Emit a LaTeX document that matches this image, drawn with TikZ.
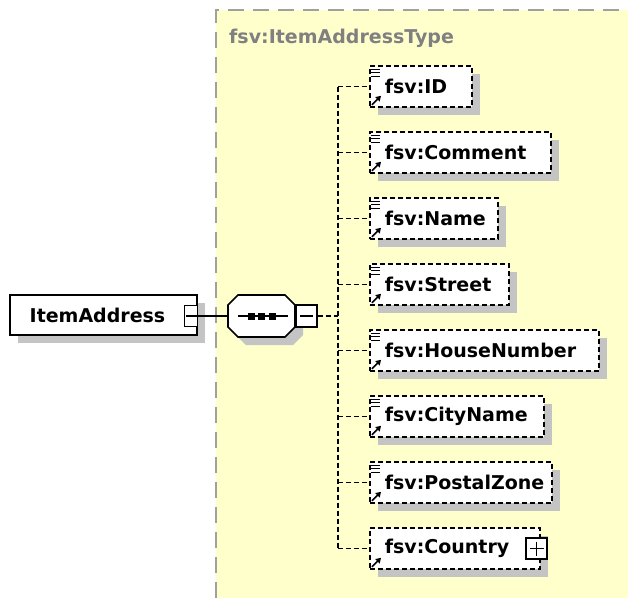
\documentclass[tikz,border=0pt]{standalone}
\usepackage{fontspec}
\setmainfont{DejaVu Sans}
\usetikzlibrary{shadows,arrows.meta}

\definecolor{typeyellow}{RGB}{255,255,204}
\definecolor{shadowgray}{RGB}{196,196,196}
\definecolor{bordergray}{RGB}{160,160,160}
\definecolor{titlegray}{RGB}{128,128,128}

\tikzset{
    xsdfont/.style={font=\fontsize{19}{21}\selectfont\bfseries},
    boxshadow/.style={drop shadow={shadow xshift=8pt, shadow yshift=-8pt, fill=shadowgray, opacity=1}},
    elembox/.style={xsdfont, draw=black, line width=1.6pt, dash pattern=on 5pt off 3pt,
        fill=white, boxshadow, anchor=west, minimum height=41pt, inner xsep=15pt, align=left},
    treeline/.style={line width=1.4pt, dash pattern=on 5pt off 3pt},
    togglebox/.style={draw=black, line width=1.4pt, fill=white, inner sep=0pt}
}

\begin{document}
\begin{tikzpicture}[x=1pt, y=-1pt]
    \useasboundingbox (0,0) rectangle (628,598);

    \def\trunkx{338}
    \def\elemx{369}

    \fill[typeyellow] (216,10) rectangle (628,598);
    \draw[bordergray, line width=1.8pt, dash pattern=on 16pt off 9pt] (216,598) -- (216,10) -- (628,10);
    \node[anchor=west, text=titlegray, xsdfont, inner sep=0pt] (typetitle) at (229,38) {fsv:ItemAddressType};

    
    \node[xsdfont, draw=black, line width=1.6pt, fill=white, boxshadow, minimum width=187pt, minimum height=40pt,
        inner sep=0pt] (itemaddress) at (103.5,315) {\hspace*{-12pt}ItemAddress};
    \node[togglebox, minimum width=13pt, minimum height=21pt] (itemtoggle) at (191,316) {};
    \draw[line width=1.4pt] (185.5,316) -- (196.5,316);

    
    \fill[shadowgray] (246,303) -- (293,303) -- (303,313) -- (303,335) -- (293,345) -- (246,345) -- (236,335) -- (236,313) -- cycle;
    \draw[line width=1.6pt, fill=white] (238,295) -- (285,295) -- (295,305) -- (295,327) -- (285,337)
        -- (238,337) -- (228,327) -- (228,305) -- cycle;
    \coordinate (seqin) at (228,316);
    \coordinate (seqout) at (295,316);
    \draw[line width=1.4pt] (238,316) -- (288,316);
    \foreach \a in {251,261.5,272} {
        \fill (\a-3.5,312.5) rectangle (\a+3.5,319.5);
    }
    \node[togglebox, minimum width=21pt, minimum height=22pt] (seqtoggle) at (306.5,316) {};
    \draw[line width=1.4pt] (300,316) -- (313,316);

    \draw[line width=1.4pt] (itemtoggle.east) -- (seqin);
    \coordinate (trunk) at (\trunkx,316);
    \draw[treeline] (seqtoggle.east) -- (trunk);

    
    \foreach \nm/\lbl/\w [count=\i from 0] in {
        id/fsv:ID/102,
        comment/fsv:Comment/181,
        name/fsv:Name/128,
        street/fsv:Street/139,
        housenumber/fsv:HouseNumber/229,
        cityname/fsv:CityName/174,
        postalzone/fsv:PostalZone/182,
        country/fsv:Country/170
    } {
        \node[elembox, text width=\w pt-30pt] (\nm) at (\elemx,86.5+66*\i) {\lbl};
        \draw[line width=1.6pt, -{Triangle[length=5pt,width=6pt]}] ([shift={(3,-3)}]\nm.south west) -- ++(9,-9);
        \coordinate (\nm-stub) at (\trunkx,86.5+66*\i);
        \draw[treeline] (\nm-stub) -- (\nm.west);
    }
    \foreach \nm in {id,comment,name,street,housenumber,cityname,postalzone} {
        \foreach \d in {4,7.5,11} {
            \draw[line width=1.4pt] ([shift={(1.5,\d)}]\nm.north west) -- ++(9,0);
        }
    }
    \draw[treeline] (id-stub) -- (country-stub);

    \node[togglebox, minimum size=21pt] (countrytoggle) at (536.5,548.5) {};
    \draw[line width=1.4pt] (529.5,548.5) -- (543.5,548.5) (536.5,541.5) -- (536.5,555.5);

\end{tikzpicture}
\end{document}
